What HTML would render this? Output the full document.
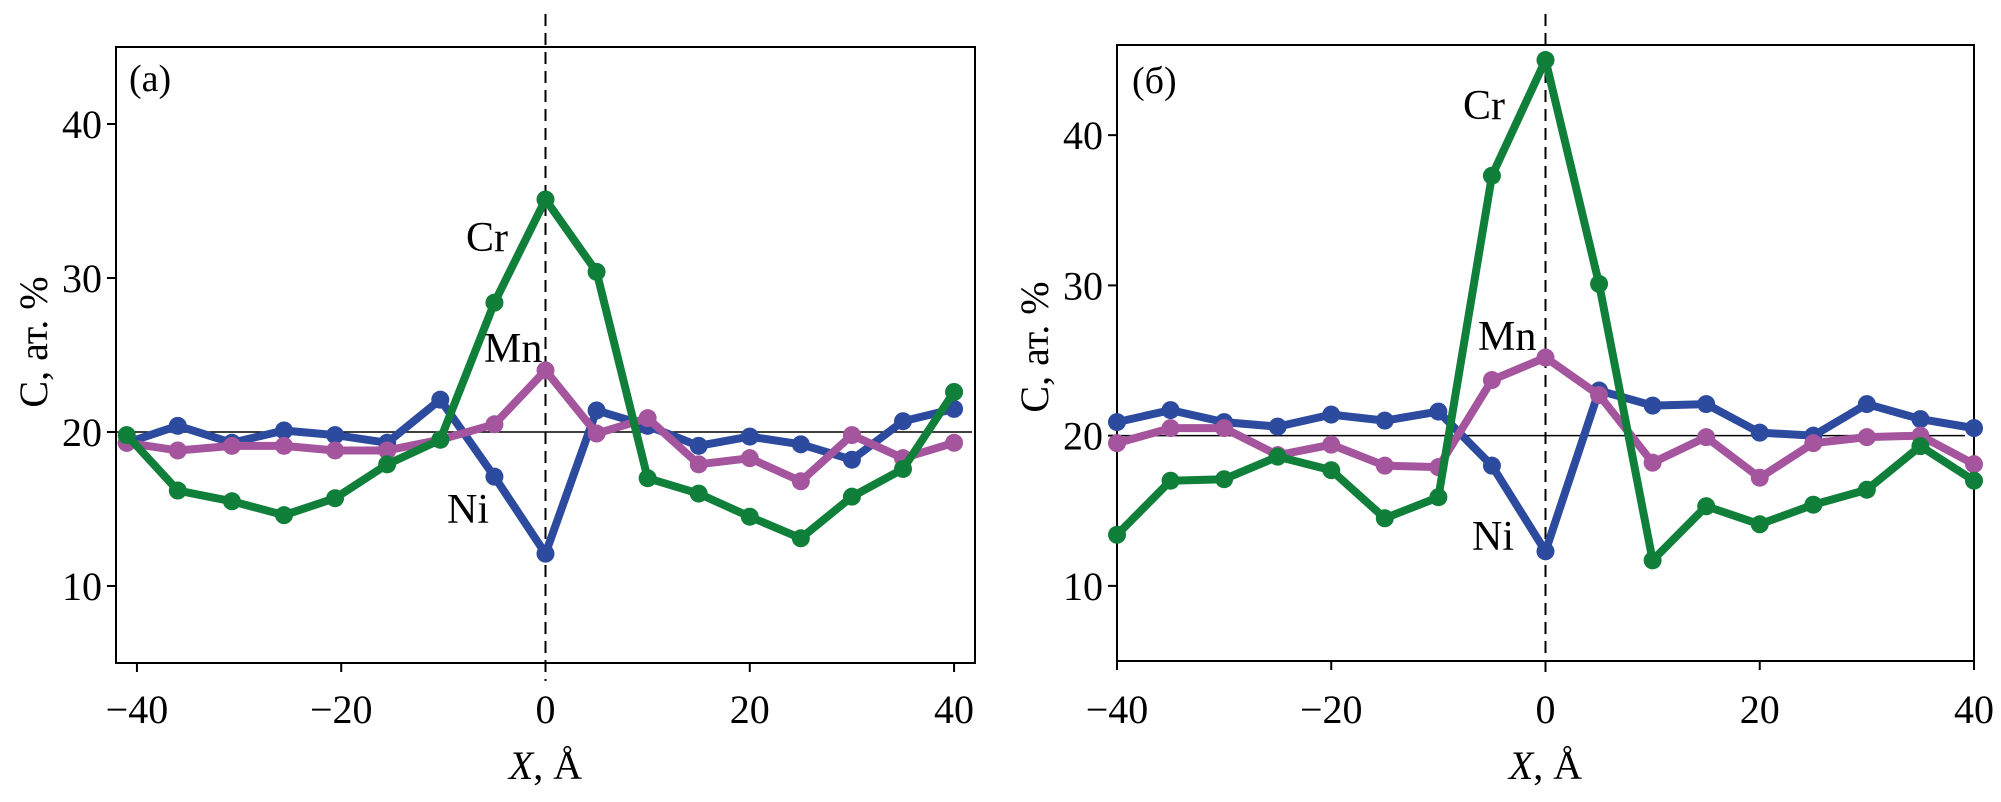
<!DOCTYPE html>
<html><head><meta charset="utf-8"><style>
html,body{margin:0;padding:0;background:#fff;}
svg{display:block;font-family:"Liberation Serif",serif;}
</style></head><body>
<svg id="chart" width="2001" height="802" viewBox="0 0 2001 802" xmlns="http://www.w3.org/2000/svg"></svg>
<script>
const xA = [-41,-36,-30.7,-25.6,-20.6,-15.5,-10.3,-5,0,5,10,15,20,25,30,35,40];
const crA = [19.8,16.2,15.5,14.6,15.7,17.9,19.5,28.4,35.1,30.4,17.0,16.0,14.5,13.1,15.8,17.6,22.6];
const mnA = [19.3,18.8,19.1,19.1,18.8,18.8,19.5,20.5,24.0,19.9,20.9,17.9,18.3,16.8,19.8,18.3,19.3];
const niA = [19.3,20.4,19.3,20.1,19.8,19.3,22.1,17.1,12.1,21.4,20.4,19.1,19.7,19.2,18.2,20.7,21.5];
const xB = [-40,-35,-30,-25,-20,-15,-10,-5,0,5,10,15,20,25,30,35,40];
const crB = [13.4,17.0,17.1,18.6,17.7,14.5,15.9,37.3,45.0,30.1,11.7,15.3,14.1,15.4,16.4,19.3,17.0];
const mnB = [19.5,20.5,20.5,18.7,19.4,18.0,17.9,23.7,25.2,22.7,18.2,19.9,17.2,19.5,19.9,20.0,18.1];
const niB = [20.9,21.7,20.9,20.6,21.4,21.0,21.6,18.0,12.3,23.0,22.0,22.1,20.2,20.0,22.1,21.1,20.5];
const xTicks = [-40,-20,0,20,40];
const yTicks = [10,20,30,40];
const colors = {Cr:'#0f7f3a', Mn:'#a4559e', Ni:'#2c4a9e'};
const NS='http://www.w3.org/2000/svg';
const svg=document.getElementById('chart');
function mk(tag,attrs,parent){const e=document.createElementNS(NS,tag);for(const k in attrs)e.setAttribute(k,attrs[k]);(parent||svg).appendChild(e);return e;}
function panel(cfg){
  const g=mk('g',{});
  
  
  const sx=v=>cfg.L+(v-cfg.x0)/(cfg.x1-cfg.x0)*(cfg.R-cfg.L);
  const sy=v=>cfg.B-(v-cfg.y0)/(cfg.y1-cfg.y0)*(cfg.B-cfg.T);
  const box=mk('rect',{x:cfg.L,y:cfg.T,width:cfg.R-cfg.L,height:cfg.B-cfg.T,fill:'none',stroke:'#000','stroke-width':2},g);
  
  
  const ref=mk('line',{x1:cfg.L,x2:cfg.refEnd,y1:sy(20),y2:sy(20),stroke:'#000','stroke-width':1.5},g);
  
  
  const dash=mk('line',{x1:sx(0),x2:sx(0),y1:14,y2:cfg.B+18,stroke:'#000','stroke-width':2,'stroke-dasharray':'12,7'},g);
  
  
  xTicks.forEach(t=>{
    mk('line',{x1:sx(t),x2:sx(t),y1:cfg.B,y2:cfg.B+9,stroke:'#000','stroke-width':2},g);
    const tx=mk('text',{x:sx(t),y:723,'font-size':40,'text-anchor':'middle'},g);
    tx.textContent=(t<0?'\u2212':'')+Math.abs(t);
    
    
  });
  yTicks.forEach(t=>{
    mk('line',{x1:cfg.L-9,x2:cfg.L,y1:sy(t),y2:sy(t),stroke:'#000','stroke-width':2},g);
    const tx=mk('text',{x:cfg.L-14,y:sy(t)+14,'font-size':40,'text-anchor':'end'},g);
    tx.textContent=t;
    
    
  });
  const series=[['Ni',cfg.ni],['Mn',cfg.mn],['Cr',cfg.cr]];
  series.forEach(([nm,vals])=>{
    const pts=cfg.xs.map((x,i)=>sx(x)+','+sy(vals[i])).join(' ');
    const pl=mk('polyline',{points:pts,fill:'none',stroke:colors[nm],'stroke-width':8,'stroke-linejoin':'round'},g);
    
    
    cfg.xs.forEach((x,i)=>{
      const c=mk('circle',{cx:sx(x),cy:sy(vals[i]),r:9,fill:colors[nm]},g);
      
      
    });
  });
  cfg.labels.forEach(([txt,x,y,fs])=>{
    const t=mk('text',{x:x,y:y,'font-size':fs},g);
    t.textContent=txt;
    
    
  });
  const xt=mk('text',{x:sx(0),y:779,'font-size':40,'text-anchor':'middle'},g);
  xt.innerHTML='<tspan font-style="italic">X</tspan>, Å';
  
  
  const yt=mk('text',{x:0,y:0,'font-size':40,'text-anchor':'middle',transform:`translate(${cfg.ytX},${cfg.ytY}) rotate(-90)`},g);
  yt.textContent='C, ат. %';
  
  
}
panel({name:'panel-a',L:116,R:975,T:47,B:663,x0:-42.05,x1:42.05,y0:5,y1:45,refEnd:972,xs:xA,cr:crA,mn:mnA,ni:niA,ytX:47,ytY:342,
  labels:[['(a)',129,91,38],['Cr',466,251,42],['Mn',484,362,42],['Ni',447,523,42]]});
panel({name:'panel-b',L:1117,R:1974,T:45,B:661,x0:-40,x1:40,y0:5,y1:46,refEnd:1965,xs:xB,cr:crB,mn:mnB,ni:niB,ytX:1048,ytY:347,
  labels:[['(б)',1132,93,38],['Cr',1463,119,42],['Mn',1478,350,42],['Ni',1472,550,42]]});
</script>
</body></html>
